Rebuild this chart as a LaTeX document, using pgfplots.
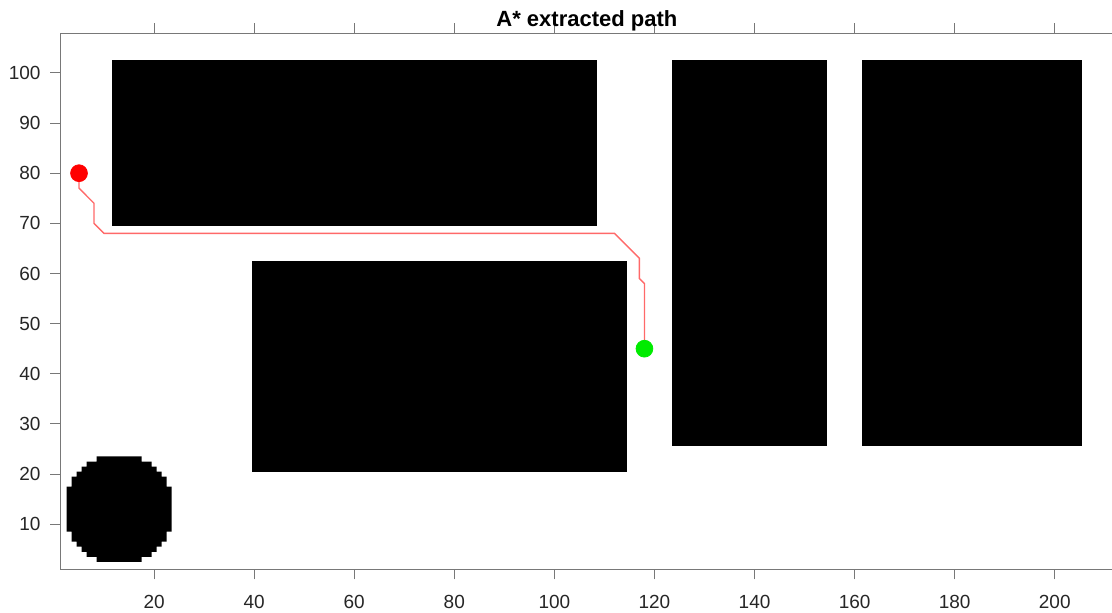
\documentclass[border=0pt]{standalone}
\usepackage{pgfplots}
\pgfplotsset{compat=1.18}
\usepackage{fontspec}
\setmainfont{Liberation Sans}
\definecolor{txt}{RGB}{38,38,38}
\definecolor{axc}{RGB}{120,120,120}
\definecolor{pathred}{RGB}{255,105,105}
\definecolor{goalgreen}{RGB}{0,235,0}
\begin{document}
\begin{tikzpicture}
\begin{axis}[
  name=ax,
  scale only axis,
  width=526.9pt, height=268.0pt,
  xmin=1.2, xmax=211.8, ymin=1, ymax=107.9,
  xtick={20,40,...,200}, ytick={10,20,...,100},
  tick align=outside,
  major tick length=5pt,
  xtick pos=both, ytick pos=both,
  axis line style={axc, line width=0.5pt},
  tick style={axc, line width=0.5pt},
  ticklabel style={font=\fontsize{9.5}{10}\selectfont, text=txt},
  xticklabel style={yshift=-4.6pt},
  yticklabel style={xshift=-1.2pt},
  /pgf/number format/assume math mode=true,
  title={A* extracted path},
  title style={font=\bfseries\fontsize{11}{12}\selectfont, at={(0.5,1)}, anchor=base, yshift=-2.7pt, text=black},
  clip=true,
]
% rectangular obstacles
\addplot[fill=black, draw=none] coordinates {(11.5,69.5) (108.5,69.5) (108.5,102.5) (11.5,102.5)};
\addplot[fill=black, draw=none] coordinates {(39.5,20.5) (114.5,20.5) (114.5,62.5) (39.5,62.5)};
\addplot[fill=black, draw=none] coordinates {(123.5,25.5) (154.5,25.5) (154.5,102.5) (123.5,102.5)};
\addplot[fill=black, draw=none] coordinates {(161.5,25.5) (205.5,25.5) (205.5,102.5) (161.5,102.5)};
% pixelated circular obstacle
\addplot[fill=black, draw=none] coordinates {
(8.5,23.5) (17.5,23.5) (17.5,22.5) (19.5,22.5) (19.5,21.5) (20.5,21.5) (20.5,20.5) (21.5,20.5)
(21.5,19.5) (22.5,19.5) (22.5,17.5) (23.5,17.5) (23.5,8.5) (22.5,8.5) (22.5,6.5) (21.5,6.5)
(21.5,5.5) (20.5,5.5) (20.5,4.5) (19.5,4.5) (19.5,3.5) (17.5,3.5) (17.5,2.5) (8.5,2.5)
(8.5,3.5) (6.5,3.5) (6.5,4.5) (5.5,4.5) (5.5,5.5) (4.5,5.5) (4.5,6.5) (3.5,6.5)
(3.5,8.5) (2.5,8.5) (2.5,17.5) (3.5,17.5) (3.5,19.5) (4.5,19.5) (4.5,20.5) (5.5,20.5)
(5.5,21.5) (6.5,21.5) (6.5,22.5) (8.5,22.5)};
% path
\addplot[pathred, line width=0.7pt] coordinates {
(5,80) (5,77) (8,74) (8,70) (10,68) (112,68) (117,63) (117,59) (118,58) (118,45)};
% start and goal
\addplot[only marks, mark=*, mark size=4.2pt, mark options={fill=red, draw=red}] coordinates {(5,80)};
\addplot[only marks, mark=*, mark size=4.2pt, mark options={fill=goalgreen, draw=goalgreen}] coordinates {(118,45)};
\end{axis}
\pgfresetboundingbox
\path[use as bounding box] ([xshift=-30pt,yshift=-21.5pt]ax.south west) rectangle ([xshift=526pt,yshift=284.65pt]ax.south west);
\end{tikzpicture}
\end{document}
